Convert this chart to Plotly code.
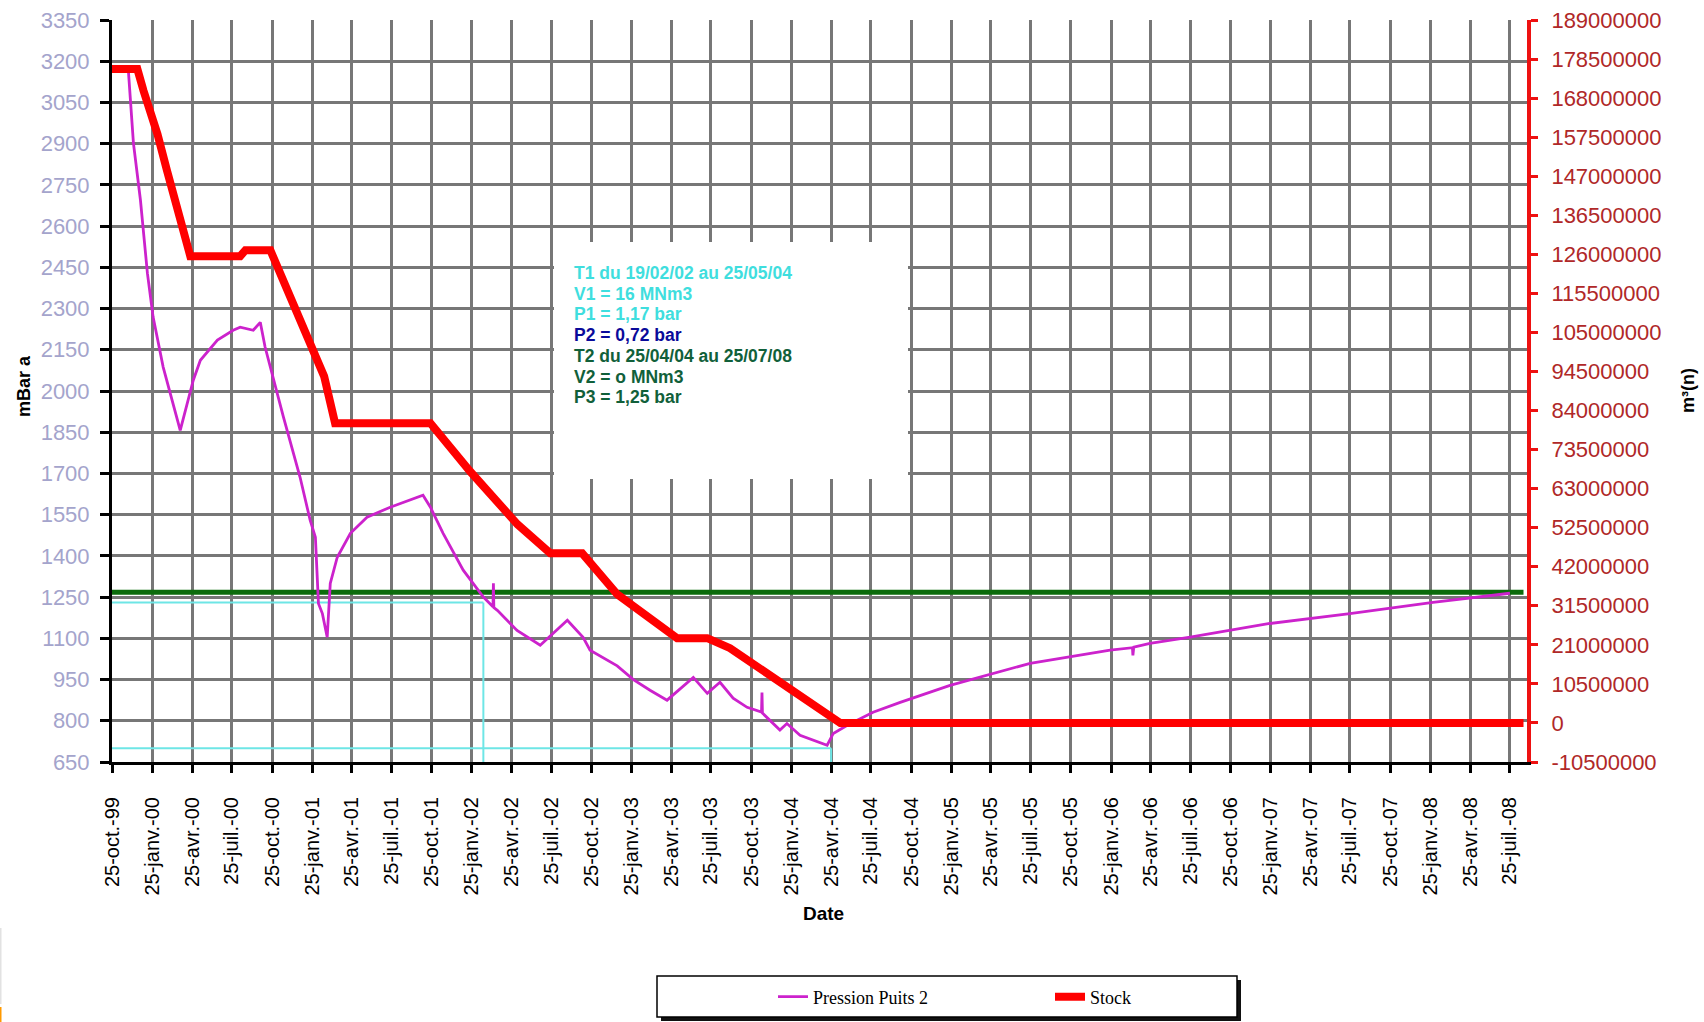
import plotly.graph_objects as go

# ---------------- DATA ----------------
PRESSION_DATES = [
    "1999-12-01", "1999-12-06", "1999-12-13", "1999-12-29", "2000-01-14", "2000-01-27",
    "2000-02-19", "2000-03-29", "2000-04-28", "2000-05-14", "2000-06-22", "2000-07-28",
    "2000-08-13", "2000-09-12", "2000-09-28", "2000-10-09", "2000-11-20", "2000-12-28",
    "2001-01-20", "2001-02-01", "2001-02-08", "2001-02-17", "2001-02-28", "2001-03-07",
    "2001-03-23", "2001-04-22", "2001-05-30", "2001-07-22", "2001-10-05", "2001-10-22",
    "2001-11-20", "2002-01-05", "2002-02-20", "2002-03-14", "2002-03-15", "2002-03-16",
    "2002-03-24", "2002-05-08", "2002-06-30", "2002-08-31", "2002-10-06", "2002-10-22",
    "2002-12-23", "2003-01-29", "2003-03-08", "2003-04-16", "2003-06-15", "2003-07-17",
    "2003-08-15", "2003-09-14", "2003-10-16", "2003-11-18", "2003-11-19", "2003-11-20",
    "2003-12-30", "2004-01-15", "2004-02-14", "2004-04-16", "2004-04-30", "2004-06-01",
    "2004-07-30", "2004-09-30", "2005-01-22", "2005-07-24", "2006-01-23", "2006-03-15",
    "2006-03-16", "2006-03-18", "2006-04-24", "2006-07-25", "2007-01-23", "2007-07-25",
    "2008-01-31", "2008-07-25",
]
PRESSION_VALUES = [
    3176, 3059, 2902, 2695, 2428, 2269,
    2087, 1857, 2040, 2112, 2185, 2221,
    2232, 2221, 2250, 2160, 1905, 1686,
    1530, 1468, 1227, 1190, 1104, 1300,
    1395, 1482, 1541, 1577, 1621, 1577,
    1482, 1348, 1250, 1215, 1300, 1212,
    1202, 1129, 1075, 1166, 1104, 1057,
    1000, 950, 911, 875, 958, 900,
    940, 882, 849, 832, 903, 828,
    766, 790, 747, 711, 754, 784,
    831, 867, 929, 1009, 1057, 1066,
    1038, 1068, 1082, 1104, 1154, 1190,
    1231, 1264,
]

STOCK_DATES = [
    "1999-10-25", "1999-12-22", "2000-01-05", "2000-02-06", "2000-02-28", "2000-03-29",
    "2000-04-21", "2000-08-13", "2000-08-25", "2000-10-21", "2000-12-28", "2001-02-21",
    "2001-03-18", "2001-10-22", "2002-01-21", "2002-05-09", "2002-07-23", "2002-10-04",
    "2002-12-23", "2003-05-09", "2003-07-17", "2003-09-07", "2004-05-16", "2008-08-25",
]
STOCK_VALUES = [
    175800000, 175800000, 170000000, 158300000, 148400000, 135700000,
    125500000, 125500000, 127100000, 127100000, 108800000, 93200000,
    80600000, 80600000, 67600000, 53400000, 45600000, 45600000,
    34600000, 22800000, 22800000, 20100000, 0, 0,
]

X_TICK_DATES = [
    "1999-10-25",
    "2000-01-25", "2000-04-25", "2000-07-25", "2000-10-25",
    "2001-01-25", "2001-04-25", "2001-07-25", "2001-10-25",
    "2002-01-25", "2002-04-25", "2002-07-25", "2002-10-25",
    "2003-01-25", "2003-04-25", "2003-07-25", "2003-10-25",
    "2004-01-25", "2004-04-25", "2004-07-25", "2004-10-25",
    "2005-01-25", "2005-04-25", "2005-07-25", "2005-10-25",
    "2006-01-25", "2006-04-25", "2006-07-25", "2006-10-25",
    "2007-01-25", "2007-04-25", "2007-07-25", "2007-10-25",
    "2008-01-25", "2008-04-25", "2008-07-25",
]
X_TICK_LABELS = [
    "25-oct.-99",
    "25-janv.-00", "25-avr.-00", "25-juil.-00", "25-oct.-00",
    "25-janv.-01", "25-avr.-01", "25-juil.-01", "25-oct.-01",
    "25-janv.-02", "25-avr.-02", "25-juil.-02", "25-oct.-02",
    "25-janv.-03", "25-avr.-03", "25-juil.-03", "25-oct.-03",
    "25-janv.-04", "25-avr.-04", "25-juil.-04", "25-oct.-04",
    "25-janv.-05", "25-avr.-05", "25-juil.-05", "25-oct.-05",
    "25-janv.-06", "25-avr.-06", "25-juil.-06", "25-oct.-06",
    "25-janv.-07", "25-avr.-07", "25-juil.-07", "25-oct.-07",
    "25-janv.-08", "25-avr.-08", "25-juil.-08",
]

LEFT_TICKS = [650, 800, 950, 1100, 1250, 1400, 1550, 1700, 1850, 2000,
              2150, 2300, 2450, 2600, 2750, 2900, 3050, 3200, 3350]
RIGHT_TICKS = [-10500000, 0, 10500000, 21000000, 31500000, 42000000, 52500000,
               63000000, 73500000, 84000000, 94500000, 105000000, 115500000,
               126000000, 136500000, 147000000, 157500000, 168000000,
               178500000, 189000000]
RIGHT_TICK_LABELS = [str(v) for v in RIGHT_TICKS]

# Reference lines
P3_LEVEL = 1268          # green line
T1_START_LEVEL = 1230    # cyan upper
T1_END_LEVEL = 700       # cyan lower
T1_START_DATE = "2002-02-20"
T1_END_DATE = "2004-04-25"
X_START = "1999-10-25"
X_END = "2008-09-02"
GREEN_END = "2008-08-25"

INFO_LINES = [
    "T1 du 19/02/02 au 25/05/04",
    "V1 = 16 MNm3",
    "P1 = 1,17 bar",
    "P2 = 0,72 bar",
    "T2 du 25/04/04 au 25/07/08",
    "V2 = o MNm3",
    "P3 = 1,25 bar",
]
INFO_COLORS = ["#3fdede", "#3fdede", "#3fdede", "#0a0a9a",
               "#11603a", "#11603a", "#11603a"]

# ---------------- LAYOUT GEOMETRY ----------------
W, H = 1704, 1022
ML, MR, MT, MB = 112, 177, 20, 260
PW = W - ML - MR
PH = H - MT - MB


def px(x):
    return (x - ML) / PW


def py(y):
    return (H - MB - y) / PH


TICK_FONT = "Liberation Sans, Arial"

fig = go.Figure()

fig.add_trace(go.Scatter(
    x=PRESSION_DATES, y=PRESSION_VALUES, name="Pression Puits 2",
    mode="lines", line=dict(color="#cc22cc", width=2.8), yaxis="y",
))
fig.add_trace(go.Scatter(
    x=STOCK_DATES, y=STOCK_VALUES, name="Stock",
    mode="lines", line=dict(color="#ff0000", width=8), yaxis="y2",
))

shapes = []
# green P3 line
shapes.append(dict(type="line", xref="x", yref="y", x0=X_START, x1=GREEN_END,
                   y0=P3_LEVEL, y1=P3_LEVEL, line=dict(color="#0b6b0b", width=5),
                   layer="between"))
# cyan T1 lines
cy = dict(color="#6ee6e6", width=2)
shapes.append(dict(type="line", xref="x", yref="y", x0=X_START, x1=T1_START_DATE,
                   y0=T1_START_LEVEL, y1=T1_START_LEVEL, line=cy, layer="between"))
shapes.append(dict(type="line", xref="x", yref="y", x0=T1_START_DATE, x1=T1_START_DATE,
                   y0=LEFT_TICKS[0], y1=T1_START_LEVEL, line=cy, layer="between"))
shapes.append(dict(type="line", xref="x", yref="y", x0=X_START, x1=T1_END_DATE,
                   y0=T1_END_LEVEL, y1=T1_END_LEVEL, line=cy, layer="between"))
shapes.append(dict(type="line", xref="x", yref="y", x0=T1_END_DATE, x1=T1_END_DATE,
                   y0=LEFT_TICKS[0], y1=T1_END_LEVEL, line=cy, layer="between"))
# white info box
shapes.append(dict(type="rect", xref="paper", yref="paper",
                   x0=px(554), x1=px(908), y0=py(479), y1=py(242),
                   fillcolor="white", line=dict(width=0), layer="above"))
# legend box with shadow
shapes.append(dict(type="rect", xref="paper", yref="paper",
                   x0=px(661), x1=px(1241), y0=py(1021), y1=py(980),
                   fillcolor="#111111", line=dict(width=0), layer="above"))
shapes.append(dict(type="rect", xref="paper", yref="paper",
                   x0=px(657), x1=px(1237), y0=py(1017), y1=py(976),
                   fillcolor="white", line=dict(color="black", width=1.5), layer="above"))
# screenshot edge artifacts
shapes.append(dict(type="line", xref="paper", yref="paper",
                   x0=px(0.5), x1=px(0.5), y0=py(1004), y1=py(928),
                   line=dict(color="#e2e2e2", width=2), layer="above"))
shapes.append(dict(type="line", xref="paper", yref="paper",
                   x0=px(0.5), x1=px(0.5), y0=py(1022), y1=py(1007),
                   line=dict(color="#ff9900", width=2), layer="above"))

annotations = []
for i, (txt, col) in enumerate(zip(INFO_LINES, INFO_COLORS)):
    annotations.append(dict(
        xref="paper", yref="paper", x=px(572), y=py(273 + i * 20.7),
        xanchor="left", yanchor="middle", showarrow=False, text=txt,
        font=dict(family="Liberation Sans, Arial", size=17.5, color=col, weight="bold"),
    ))
annotations.append(dict(xref="paper", yref="paper", x=px(24), y=py(386),
                        xanchor="center", yanchor="middle",
                        text="<b>mBar a</b>", textangle=-90, showarrow=False,
                        font=dict(family="Liberation Sans, Arial", size=18, color="black")))
annotations.append(dict(xref="paper", yref="paper", x=px(1688), y=py(391),
                        xanchor="center", yanchor="middle",
                        text="<b>m³(n)</b>", textangle=-90, showarrow=False,
                        font=dict(family="Liberation Sans, Arial", size=18, color="black")))
annotations.append(dict(xref="paper", yref="paper", x=px(823), y=py(913),
                        xanchor="center", yanchor="middle",
                        text="<b>Date</b>", showarrow=False,
                        font=dict(family="Liberation Sans, Arial", size=19, color="black")))

fig.update_layout(
    template="none",
    width=W, height=H,
    margin=dict(l=ML, r=MR, t=MT, b=MB, pad=0, autoexpand=False),
    paper_bgcolor="white", plot_bgcolor="white",
    showlegend=True,
    legend=dict(orientation="h", x=px(773), xanchor="left", y=py(997), yanchor="middle",
                bgcolor="rgba(0,0,0,0)", borderwidth=0,
                entrywidth=232, entrywidthmode="pixels",
                font=dict(family="Liberation Serif, Times New Roman", size=18, color="black")),
    xaxis=dict(
        type="date", range=[X_START, X_END], automargin=False,
        tickmode="array", tickvals=X_TICK_DATES, ticktext=X_TICK_LABELS,
        tickangle=-90, ticks="outside", ticklen=8, tickwidth=3, tickcolor="black",
        ticklabelstandoff=16,
        tickfont=dict(family=TICK_FONT, size=20, color="black"),
        showgrid=True, gridcolor="#777777", gridwidth=2.5,
        showline=True, linecolor="black", linewidth=3, zeroline=False,
    ),
    yaxis=dict(
        range=[LEFT_TICKS[0], LEFT_TICKS[-1]], automargin=False,
        tickmode="array", tickvals=LEFT_TICKS, ticktext=[str(v) for v in LEFT_TICKS],
        ticks="outside", ticklen=9, tickwidth=3, tickcolor="black",
        ticklabelstandoff=6,
        tickfont=dict(family=TICK_FONT, size=22, color="#a4a4cc"),
        showgrid=True, gridcolor="#777777", gridwidth=2.5,
        showline=True, linecolor="black", linewidth=3, zeroline=False,
    ),
    yaxis2=dict(
        overlaying="y", side="right", anchor="x",
        range=[RIGHT_TICKS[0], RIGHT_TICKS[-1]], automargin=False,
        tickmode="array", tickvals=RIGHT_TICKS, ticktext=RIGHT_TICK_LABELS,
        ticks="outside", ticklen=7, tickwidth=3, tickcolor="#ee1111",
        ticklabelstandoff=9,
        tickfont=dict(family=TICK_FONT, size=22, color="#b02828"),
        showgrid=False, showline=True, linecolor="#ee1111", linewidth=4, zeroline=False,
    ),
    shapes=shapes,
    annotations=annotations,
)

fig.write_html("out.html", config={"displayModeBar": False},
               post_script="document.body.style.margin='0';")
